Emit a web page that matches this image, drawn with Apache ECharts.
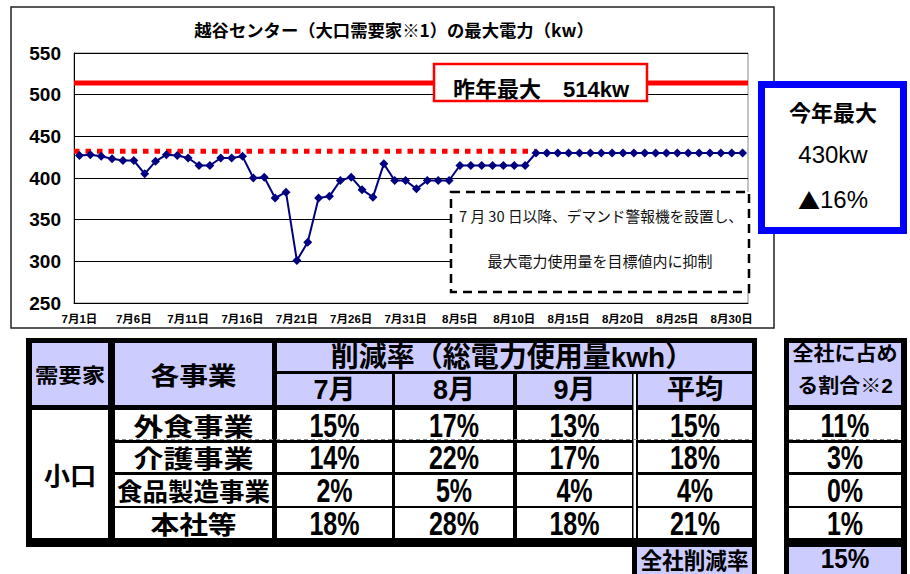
<!DOCTYPE html>
<html><head><meta charset="utf-8">
<script src="https://cdn.jsdelivr.net/npm/echarts@6/dist/echarts.min.js"></script>
<style>html,body{margin:0;padding:0;background:#fff}#main{width:910px;height:574px}</style>
</head><body><div id="main"></div>
<script>
// ---------- chart data ----------
const dates = ['7月1日','7月2日','7月3日','7月4日','7月5日','7月6日','7月7日','7月8日','7月9日','7月10日',
'7月11日','7月12日','7月13日','7月14日','7月15日','7月16日','7月17日','7月18日','7月19日','7月20日',
'7月21日','7月22日','7月23日','7月24日','7月25日','7月26日','7月27日','7月28日','7月29日','7月30日','7月31日',
'8月1日','8月2日','8月3日','8月4日','8月5日','8月6日','8月7日','8月8日','8月9日','8月10日',
'8月11日','8月12日','8月13日','8月14日','8月15日','8月16日','8月17日','8月18日','8月19日','8月20日',
'8月21日','8月22日','8月23日','8月24日','8月25日','8月26日','8月27日','8月28日','8月29日','8月30日','8月31日'];
const maxPower = [427,428,426,423,421,421,405,420,428,427,424,415,415,424,424,426,400,401,376,383,
301,323,376,378,397,401,386,377,417,397,397,
387,397,397,397,415,415,415,415,415,415,415,
430,430,430,430,430,430,430,430,430,430,430,430,430,430,430,430,430,430,430,430];
const yMin = 250, yMax = 550, yStep = 50;
const lastYearMax = 514;      // 昨年最大
const targetLevel = 432;      // red dotted target line
const targetEndDay = 42.4;    // dotted line ends here (in days from Jul 1)
const dayCount = 62;

const chartTitle = '越谷センター（大口需要家※1）の最大電力（kw）';
const lastYearLabel = '昨年最大　514kw';
const thisYearLines = ['今年最大', '430kw', '16%'];
const noteLines = ['7 月 30 日以降、デマンド警報機を設置し、', '最大電力使用量を目標値内に抑制'];

// ---------- table data ----------
const demandClass = '小口';
const businesses = ['外食事業','介護事業','食品製造事業','本社等'];
const monthHeaders = ['7月','8月','9月','平均'];
const julyRate = [15,14,2,18];
const augRate  = [17,22,5,28];
const sepRate  = [13,17,4,18];
const avgRate  = [15,18,4,21];
const shareRate = [11,3,0,1];
const companyReduction = 15;

// ---------- helpers ----------
const CJK = "'Noto Sans CJK JP'";
const MIX = "'Liberation Sans','Noto Sans CJK JP'";
const NUM = "'Liberation Sans'";
function txt(x, y, text, size, weight, family, scaleX, fill, rich) {
  const st = { text: text, x: 0, y: 0, fill: fill || '#000', fontSize: size, fontWeight: weight,
      fontFamily: family, textAlign: 'center', align: 'center',
      textVerticalAlign: 'middle', verticalAlign: 'middle' };
  if (rich) st.rich = rich;
  return { type: 'text', x: x, y: y, z: 30, scaleX: scaleX || 1, silent: true, style: st };
}
function rect(x1, y1, x2, y2, fill, z) {
  return { type: 'rect', z: z || 20, silent: true, shape: { x: x1, y: y1, width: x2 - x1, height: y2 - y1 }, style: { fill: fill } };
}
const LAV = '#CCCCFF';
const pct = v => v + '%';

const g = [];
// chart frame
g.push({ type: 'rect', z: 1, silent: true, shape: { x: 11, y: 7, width: 763, height: 321 }, style: { fill: 'none', stroke: '#222', lineWidth: 1.5 } });
g.push(txt(394, 30, chartTitle, 17, 'bold', CJK, 1.02));
// last year box
g.push({ type: 'rect', z: 20, silent: true, shape: { x: 434, y: 64, width: 213, height: 37 }, style: { fill: '#fff', stroke: '#FF0000', lineWidth: 2.5 } });
g.push(txt(541, 89, lastYearLabel, 22, 'bold', MIX, 1));
// this year box
g.push({ type: 'rect', z: 20, silent: true, shape: { x: 761.5, y: 84.5, width: 142, height: 146 }, style: { fill: '#fff', stroke: '#0000FF', lineWidth: 7 } });
g.push(txt(833, 111, thisYearLines[0], 22, 'bold', CJK, 1));
g.push(txt(833, 154, thisYearLines[1], 24, 'normal', NUM, 1));
g.push(txt(833, 199, '{tri|▲}' + thisYearLines[2], 24, 'normal', NUM, 1, '#000',
  { tri: { fontFamily: CJK, fontSize: 22, fill: '#000', verticalAlign: 'middle' } }));
// note box
g.push({ type: 'rect', z: 20, silent: true, shape: { x: 451, y: 192, width: 298, height: 100 }, style: { fill: '#fff', stroke: '#000', lineWidth: 2.5, lineDash: [9, 6] } });
g.push(txt(601, 215, noteLines[0], 15, 'normal', CJK, 0.98, '#111'));
g.push(txt(600, 260, noteLines[1], 15, 'normal', CJK, 1, '#111'));

// ---------- table layout ----------
const colX = [[32,108],[115,272],[277,392],[395,513],[517,632],[638,752],[789,901]];
const rowY = [[410,440],[443,472],[475,506],[508,538]];
const colC = colX.map(c => (c[0] + c[1]) / 2);
const rowC = rowY.map(r => (r[0] + r[1]) / 2);
// black frames
g.push(rect(26, 338, 757, 547, '#000', 10));
g.push(rect(784, 338, 907, 547, '#000', 10));
g.push(rect(632, 547, 757, 580, '#000', 10));
g.push(rect(784, 547, 907, 580, '#000', 10));
// header cells
g.push(rect(colX[0][0], 343, colX[0][1], 405, LAV));
g.push(rect(colX[1][0], 343, colX[1][1], 405, LAV));
g.push(rect(colX[2][0], 343, colX[5][1], 371, LAV));
for (let i = 2; i <= 5; i++) g.push(rect(colX[i][0], 374, colX[i][1], 405, LAV));
g.push(rect(colX[6][0], 343, colX[6][1], 405, LAV));
g.push(rect(633.5, 374, 636, 538, '#fff'));
// body cells
g.push(rect(colX[0][0], rowY[0][0], colX[0][1], rowY[3][1], '#fff'));
rowY.forEach(r => { for (let i = 1; i <= 6; i++) g.push(rect(colX[i][0], r[0], colX[i][1], r[1], '#fff')); });
// dashed line under first row
[[115,752],[789,901]].forEach(s => g.push({ type: 'line', z: 22, silent: true, shape: { x1: s[0], y1: 439.5, x2: s[1], y2: 439.5 }, style: { stroke: '#888', lineWidth: 1, lineDash: [4, 3] } }));
// bottom cells
g.push(rect(637, 547, 752, 580, LAV));
g.push(rect(789, 547, 901, 580, LAV));

// header texts
g.push(txt(colC[0], 374, '需要家', 20, 'bold', CJK, 1.17));
g.push(txt(colC[1], 374, '各事業', 25, 'bold', CJK, 1.15));
g.push(txt(512, 357, '削減率（総電力使用量kwh）', 28, 'bold', MIX, 1));
monthHeaders.forEach((h, i) => g.push(txt(colC[i + 2], 390, h, 27, 'bold', MIX, i === 3 ? 1.05 : 1)));
g.push(txt(colC[6], 352, '全社に占め', 20, 'bold', CJK, 1.05));
g.push(txt(colC[6], 386, 'る割合※2', 20, 'bold', MIX, 1.05));
// body texts
g.push(txt(colC[0], 474, demandClass, 25, 'bold', CJK, 1.05));
const bizScale = [1.2, 1.2, 1.02, 1.15];
businesses.forEach((b, r) => g.push(txt(colC[1], rowC[r], b, 25, 'bold', CJK, bizScale[r])));
const rateCols = [julyRate, augRate, sepRate, avgRate];
rateCols.forEach((arr, ci) => arr.forEach((v, r) => g.push(txt(colC[ci + 2], rowC[r], pct(v), 33, 'bold', NUM, 0.76))));
shareRate.forEach((v, r) => g.push(txt(colC[6], rowC[r], pct(v), 33, 'bold', NUM, 0.76)));
g.push(txt(694.5, 559, '全社削減率', 23, 'bold', CJK, 0.94));
g.push(txt(845, 559, pct(companyReduction), 27, 'bold', NUM, 0.9));

const chart = echarts.init(document.getElementById('main'), null, { renderer: 'svg' });
chart.setOption({
  animation: false,
  backgroundColor: '#fff',
  grid: { left: 74, top: 53, width: 674, height: 250, show: true, borderColor: '#888', borderWidth: 1, backgroundColor: 'transparent' },
  xAxis: [{
    type: 'category', data: dates, boundaryGap: true,
    axisLine: { lineStyle: { color: '#000', width: 1 } },
    axisTick: { interval: 4, inside: true, length: 4, lineStyle: { color: '#000' } },
    axisLabel: { interval: 4, color: '#000', fontWeight: 'bold', fontSize: 11.5, fontFamily: MIX, margin: 10 },
    splitLine: { show: false }
  }, {
    type: 'value', min: 0, max: dayCount, show: false
  }],
  yAxis: {
    type: 'value', min: yMin, max: yMax, interval: yStep,
    axisLine: { show: true, lineStyle: { color: '#000', width: 1 } },
    axisTick: { show: false },
    axisLabel: { color: '#000', fontWeight: 'bold', fontSize: 19, fontFamily: NUM, margin: 13 },
    splitLine: { lineStyle: { color: '#000', width: 1 } }
  },
  series: [{
    type: 'line', xAxisIndex: 1, data: [[0, lastYearMax], [dayCount, lastYearMax]],
    symbol: 'none', lineStyle: { color: '#FF0000', width: 5 }, z: 3, silent: true
  }, {
    type: 'line', xAxisIndex: 1, data: [[0, targetLevel], [targetEndDay, targetLevel]],
    symbol: 'none', lineStyle: { color: '#FF0000', width: 5, type: [5.5, 6] }, z: 4, silent: true
  }, {
    type: 'line', xAxisIndex: 0, data: maxPower,
    symbol: 'diamond', symbolSize: 9, showAllSymbol: true,
    itemStyle: { color: '#000080' }, lineStyle: { color: '#000080', width: 2 }, z: 5
  }],
  graphic: { elements: g }
});
</script></body></html>
